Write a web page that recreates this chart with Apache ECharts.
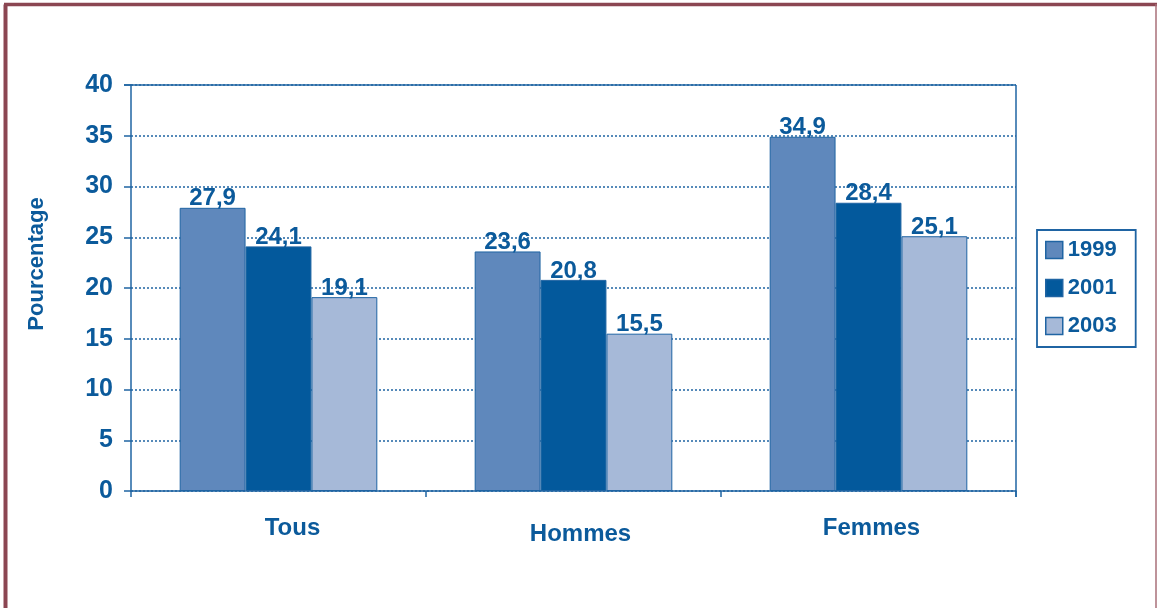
<!DOCTYPE html>
<html>
<head>
<meta charset="utf-8">
<script src="https://cdn.jsdelivr.net/npm/echarts@6/dist/echarts.min.js"></script>
<style>
html, body { margin: 0; padding: 0; background: #fff; }
#mycharts { width: 1157px; height: 608px; }
</style>
</head>
<body>
<div id="mycharts"></div>
<script>
// données
var categories = ['Tous', 'Hommes', 'Femmes'];
var years = ['1999', '2001', '2003'];
var values1999 = [27.9, 23.6, 34.9];
var values2001 = [24.1, 20.8, 28.4];
var values2003 = [19.1, 15.5, 25.1];
var yTicks = [0, 5, 10, 15, 20, 25, 30, 35, 40];

var textBlue = '#0b5a9b';
var lineBlue = '#1f64a3';
var colors = ['#5f88bc', '#03599c', '#a6b9d8'];
// petits décalages des libellés de catégories, comme sur l'original
var labelPads = [[0, 0, 0, 28], [6, 0, 0, 14], [0, 0, 0, 6]];

function makeSeries(name, data, color) {
	return {
		name: name,
		type: 'bar',
		data: data,
		barGap: 0,
		barCategoryGap: '33%',
		itemStyle: { color: color, borderColor: lineBlue, borderWidth: 1 },
		label: {
			show: true,
			position: 'top',
			distance: -3,
			color: textBlue,
			fontFamily: 'Liberation Sans',
			fontWeight: 'bold',
			fontSize: 24,
			formatter: function(p) { return String(p.value).replace('.', ','); }
		}
	};
}

var myChart = echarts.init(document.getElementById('mycharts'));
myChart.setOption({
	animation: false,
	textStyle: { fontFamily: 'Liberation Sans' },
	grid: { left: 131, right: 141, top: 85, bottom: 117, containLabel: false },
	legend: {
		data: years,
		orient: 'vertical',
		left: 1037,
		top: 230,
		padding: [9, 19, 10, 8],
		itemGap: 16,
		itemWidth: 17,
		itemHeight: 17,
		borderColor: lineBlue,
		borderWidth: 1.8,
		icon: 'rect',
		itemStyle: { borderColor: lineBlue, borderWidth: 1.5 },
		textStyle: { color: textBlue, fontWeight: 'bold', fontSize: 22 }
	},
	xAxis: {
		type: 'category',
		data: categories.map(function(c, i) {
			return { value: c, textStyle: { padding: labelPads[i] } };
		}),
		axisLine: { lineStyle: { color: lineBlue, width: 1.5 } },
		axisTick: { show: true, length: 6, alignWithLabel: false, lineStyle: { color: lineBlue, width: 1.5 } },
		axisLabel: { margin: 25, color: textBlue, fontWeight: 'bold', fontSize: 24 }
	},
	yAxis: {
		type: 'value',
		min: yTicks[0],
		max: yTicks[yTicks.length - 1],
		interval: 5,
		name: 'Pourcentage',
		nameLocation: 'middle',
		nameGap: 83,
		nameTextStyle: { color: textBlue, fontWeight: 'bold', fontSize: 22, padding: [0, 0, 0, 48] },
		axisLine: { show: true, lineStyle: { color: lineBlue, width: 1.5 } },
		axisTick: { show: true, length: 7, lineStyle: { color: lineBlue, width: 1.5 } },
		axisLabel: { margin: 18, color: textBlue, fontWeight: 'bold', fontSize: 25 },
		splitLine: { show: true, lineStyle: { color: lineBlue, type: [2, 2], width: 1.5 } }
	},
	graphic: [
		// cadre plot: haut et droite pleins
		{ type: 'line', shape: { x1: 124, y1: 85, x2: 1016, y2: 85 }, style: { stroke: lineBlue, lineWidth: 1.5 }, z: 10 },
		{ type: 'line', shape: { x1: 1016, y1: 85, x2: 1016, y2: 497 }, style: { stroke: lineBlue, lineWidth: 1.5 }, z: 10 },
		// cadre de la page
		{ type: 'line', shape: { x1: 5.5, y1: 4.5, x2: 5.5, y2: 608 }, style: { stroke: '#8b4652', lineWidth: 4 } },
		{ type: 'line', shape: { x1: 4, y1: 4.5, x2: 1157, y2: 4.5 }, style: { stroke: '#8b4652', lineWidth: 3.5 } },
		{ type: 'line', shape: { x1: 1156, y1: 4, x2: 1156, y2: 608 }, style: { stroke: '#a86f79', lineWidth: 1.5 } }
	],
	series: [
		makeSeries(years[0], values1999, colors[0]),
		makeSeries(years[1], values2001, colors[1]),
		makeSeries(years[2], values2003, colors[2])
	]
});
</script>
</body>
</html>
